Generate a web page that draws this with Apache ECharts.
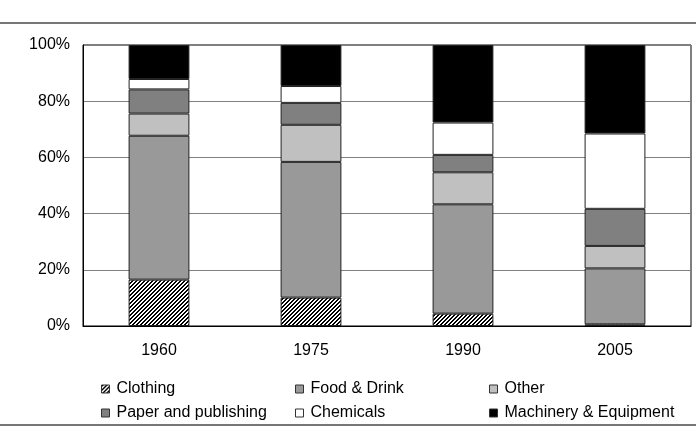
<!DOCTYPE html>
<html>
<head>
<meta charset="utf-8">
<script src="https://cdn.jsdelivr.net/npm/echarts@6/dist/echarts.min.js"></script>
<style>
  html, body { margin: 0; padding: 0; background: #fff; }
  #chart { width: 696px; height: 430px; }
</style>
</head>
<body>
<div id="chart"></div>
<script>
// years on the x axis
var years = ['1960', '1975', '1990', '2005'];
// share of each sector (%)
var clothing = [16.5, 10.1, 4.4, 0.6];
var foodDrink = [51.2, 48.3, 38.9, 19.9];
var other = [7.9, 13.2, 11.4, 8.0];
var paperPublishing = [8.6, 7.8, 6.2, 13.2];
var chemicals = [3.7, 6.0, 11.5, 26.8];
var machinery = [12.1, 14.6, 27.6, 31.5];
var yTicks = [0, 20, 40, 60, 80, 100];

// hatch for clothing, pixel pattern so it stays crisp
function hatch() {
  var c = document.createElement('canvas');
  c.width = 4; c.height = 4;
  var ctx = c.getContext('2d');
  ctx.fillStyle = '#fff';
  ctx.fillRect(0, 0, 4, 4);
  ctx.fillStyle = '#000';
  for (var x = 0; x < 4; x++) {
    for (var y = 0; y < 4; y++) {
      if ((x + y) % 4 < 2) ctx.fillRect(x, y, 1, 1);
    }
  }
  return c;
}

var names = ['Clothing', 'Food & Drink', 'Other', 'Paper and publishing', 'Chemicals', 'Machinery & Equipment'];
var colors = [{ image: hatch(), repeat: 'repeat' }, '#999999', '#c0c0c0', '#808080', '#ffffff', '#000000'];
var values = [clothing, foodDrink, other, paperPublishing, chemicals, machinery];

var series = [];
for (var i = 0; i < names.length; i++) {
  series.push({
    name: names[i],
    type: 'bar',
    stack: 'total',
    barWidth: '40%',
    data: values[i],
    itemStyle: { color: colors[i], borderColor: '#222', borderWidth: 1 }
  });
}

var legendPos = [
  [101, 381], [295, 381], [489, 381],
  [101, 405], [295, 405], [489, 405]
];
var legends = [];
for (var j = 0; j < names.length; j++) {
  legends.push({
    data: [names[j]],
    left: legendPos[j][0],
    top: legendPos[j][1],
    padding: 0,
    itemWidth: 8,
    itemHeight: 8,
    icon: 'rect',
    selectedMode: false,
    itemStyle: { borderColor: '#333', borderWidth: 1 },
    textStyle: { fontFamily: 'Liberation Sans', fontSize: 16, color: '#000', padding: [0, 0, 0, 2] }
  });
}

var chart = echarts.init(document.getElementById('chart'));
chart.setOption({
  animation: false,
  backgroundColor: '#fff',
  grid: {
    left: 83, right: 5, top: 45, bottom: 104,
    show: true, borderColor: '#000', borderWidth: 1
  },
  legend: legends,
  xAxis: {
    type: 'category',
    data: years,
    axisTick: { show: false },
    axisLine: { lineStyle: { color: '#000', width: 1 } },
    axisLabel: { fontFamily: 'Liberation Sans', fontSize: 16, color: '#000', margin: 17 }
  },
  yAxis: {
    type: 'value',
    min: yTicks[0],
    max: yTicks[yTicks.length - 1],
    interval: 20,
    axisLine: { show: true, lineStyle: { color: '#000', width: 1 } },
    axisTick: { show: false },
    splitLine: { lineStyle: { color: '#808080', width: 1 } },
    axisLabel: { fontFamily: 'Liberation Sans', fontSize: 16, color: '#000', margin: 13, formatter: '{value}%' }
  },
  graphic: [
    { type: 'line', shape: { x1: 0, y1: 23, x2: 696, y2: 23 }, style: { stroke: '#777', lineWidth: 2 } },
    { type: 'line', shape: { x1: 0, y1: 425, x2: 696, y2: 425 }, style: { stroke: '#777', lineWidth: 2 } }
  ],
  series: series
});
</script>
</body>
</html>
